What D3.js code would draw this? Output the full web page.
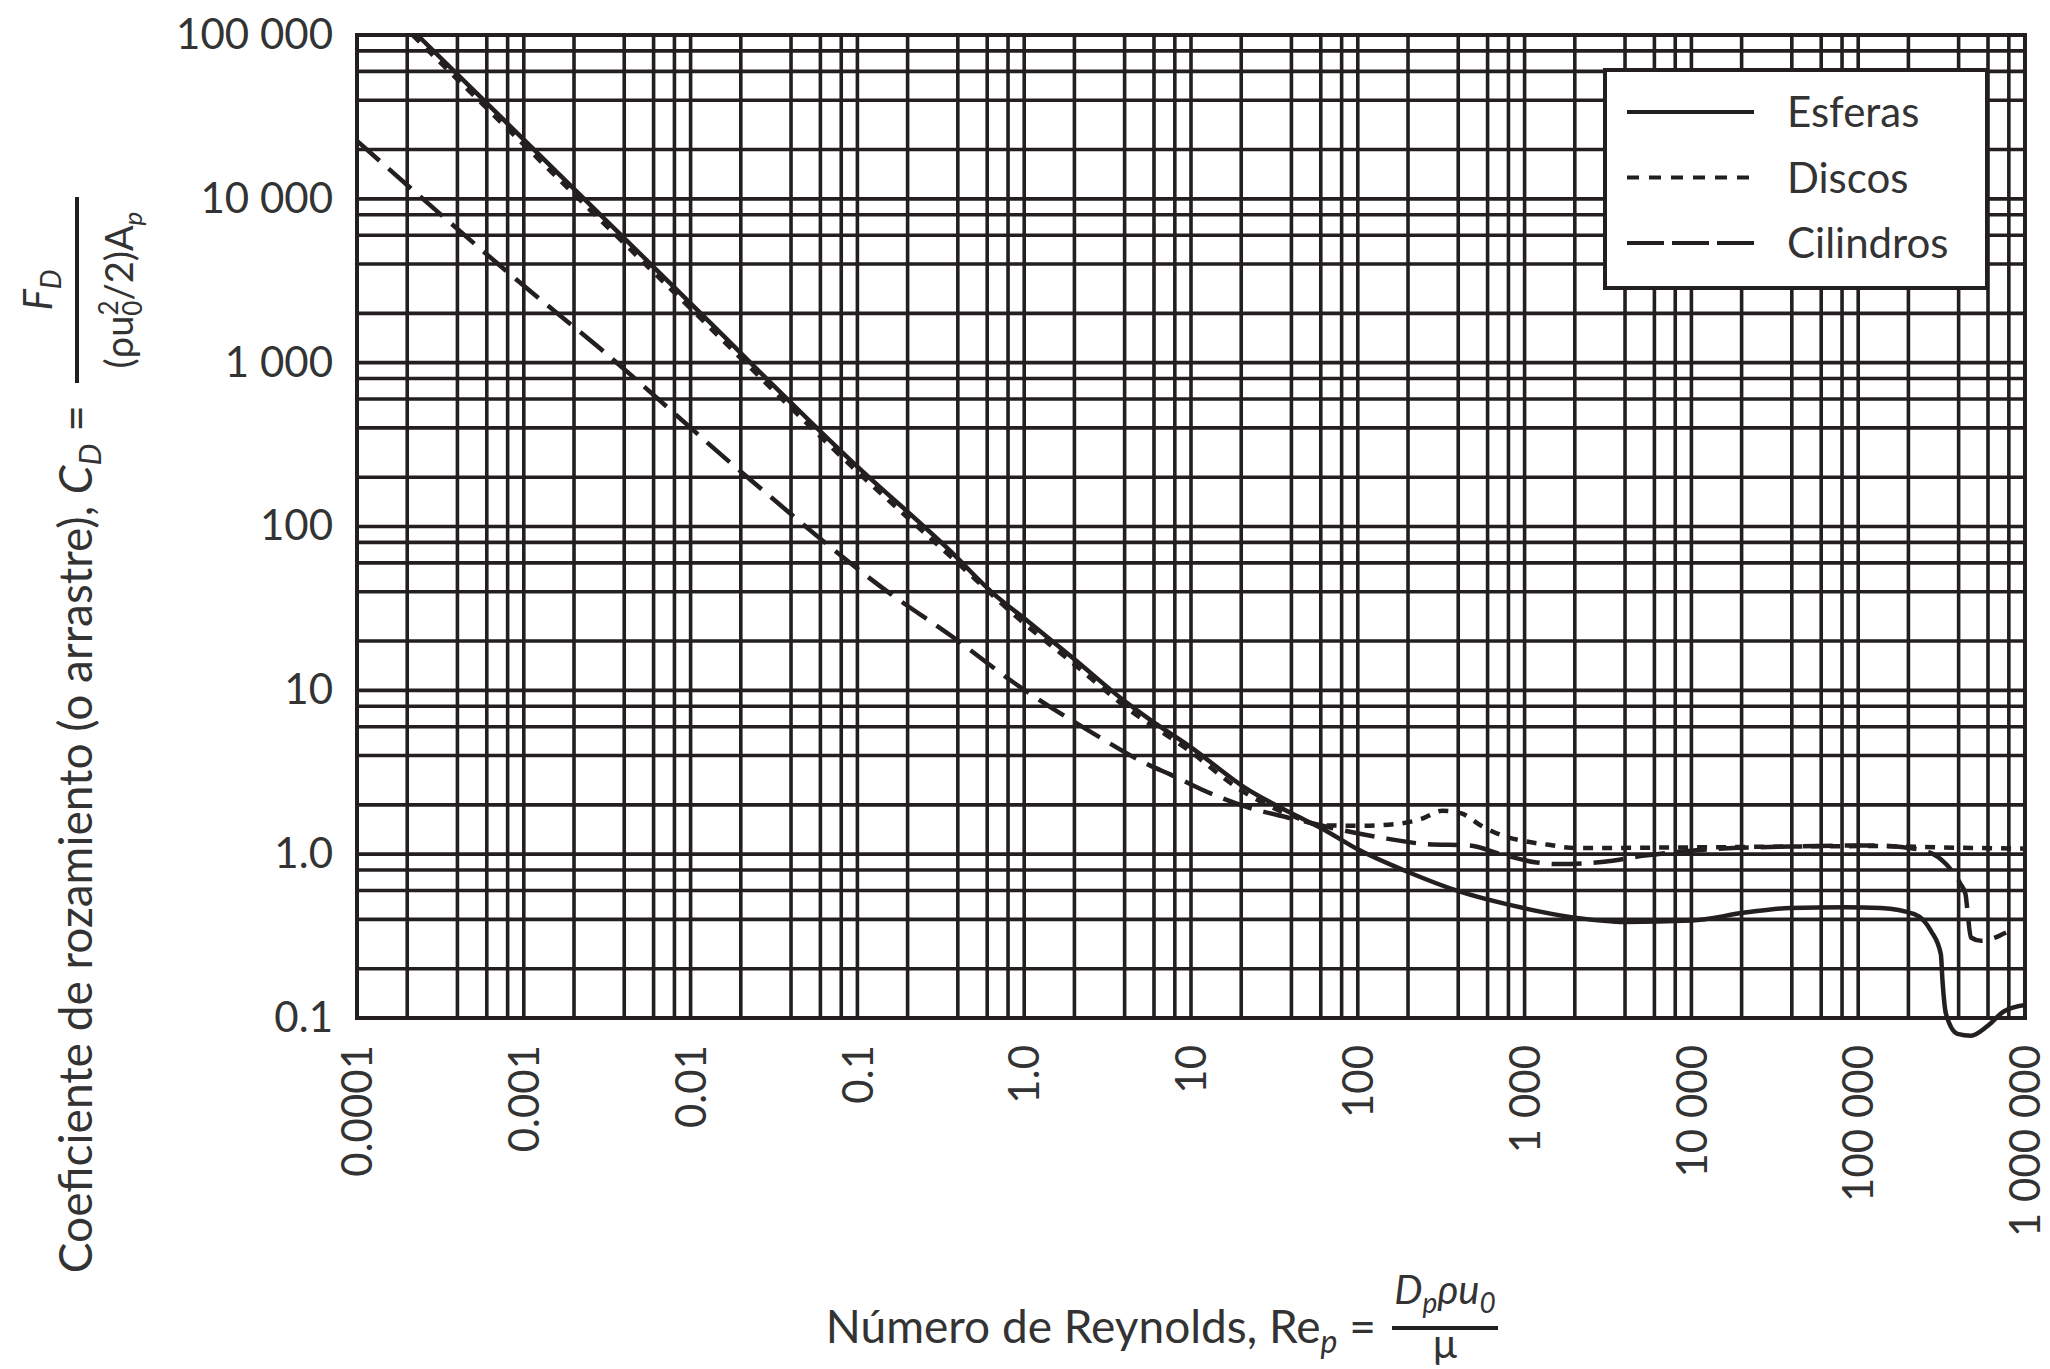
<!DOCTYPE html>
<html>
<head>
<meta charset="utf-8">
<script src="https://cdn.jsdelivr.net/npm/d3@7"></script>
<style>
  body { margin: 0; background: #fff; }
  svg { display: block; }
  text { font-family: Lato, "Open Sans", sans-serif; fill: #333; }
</style>
</head>
<body>
<svg id="chart"></svg>
<script>
const width = 2050;
const height = 1369;
const margin = { top: 35, right: 25, bottom: 351, left: 357 };

// axis ticks
const xTickValues = [1e-4, 1e-3, 0.01, 0.1, 1, 10, 100, 1e3, 1e4, 1e5, 1e6];
const xTickLabels = ["0.0001", "0.001", "0.01", "0.1", "1.0", "10", "100", "1 000", "10 000", "100 000", "1 000 000"];
const yTickValues = [0.1, 1, 10, 100, 1e3, 1e4, 1e5];
const yTickLabels = ["0.1", "1.0", "10", "100", "1 000", "10 000", "100 000"];
const gridSteps = [1, 2, 4, 6, 8];

// Esferas (solid)
const esferasRe = [2.3e-4, 1e-3, 0.01, 0.1, 0.36, 0.656, 1, 2, 4, 5.7, 10, 20.9, 39, 62, 100, 205, 410, 813, 2000, 4000,
  1e4, 2.1e4, 3.9e4, 8.4e4, 1.37e5, 2.17e5, 2.73e5, 3.13e5, 3.2e5, 3.36e5, 3.94e5, 4.74e5, 5.97e5, 7.5e5, 1e6];
const esferasCd = [1e5, 23000, 2300, 232, 71, 38.8, 27.5, 15.5, 8.6, 6.6, 4.49, 2.56, 1.80, 1.42, 1.07, 0.77, 0.59, 0.49, 0.41, 0.385,
  0.393, 0.44, 0.47, 0.475, 0.47, 0.43, 0.34, 0.245, 0.17, 0.106, 0.080, 0.078, 0.0895, 0.11, 0.12];

// Discos (dotted)
const discosRe = [2.15e-4, 1e-3, 0.01, 0.1, 0.36, 1, 2, 4, 10, 20, 40, 62, 100, 170, 240, 320, 414, 550, 720, 1000,
  1400, 2000, 1e4, 1.24e5, 3e5, 1e6];
const discosCd = [1e5, 21400, 2140, 216, 66, 25.6, 14.4, 8.0, 4.2, 2.45, 1.72, 1.5, 1.49, 1.53, 1.64, 1.84, 1.78, 1.49, 1.31, 1.2,
  1.14, 1.09, 1.1, 1.12, 1.1, 1.08];

// Cilindros (dashed)
const cilindrosRe = [1e-4, 1e-3, 2.87e-3, 0.0207, 0.158, 0.377, 0.86, 2.49, 5.7, 7.5, 11.4, 21.3, 39.5, 133, 264, 468, 720, 1180,
  1600, 3000, 5250, 1e4, 3.3e4, 1.24e5, 2.4e5, 3.36e5, 4.1e5, 4.4e5, 4.5e5, 4.74e5, 5.44e5, 7.7e5];
const cilindrosCd = [22600, 2950, 1219, 210, 38.8, 21.0, 11.2, 5.6, 3.47, 3.07, 2.5, 1.95, 1.66, 1.27, 1.15, 1.13, 1.0, 0.89,
  0.87, 0.90, 0.98, 1.05, 1.11, 1.13, 1.06, 0.87, 0.66, 0.57, 0.47, 0.31, 0.296, 0.333];

const seriesNames = ["Esferas", "Discos", "Cilindros"];

const ink = "#231f20";

const svg = d3.select("#chart")
  .attr("width", width)
  .attr("height", height)
  .attr("viewBox", [0, 0, width, height]);

const x = d3.scaleLog()
  .domain([1e-4, 1e6])
  .range([margin.left, width - margin.right]);

const y = d3.scaleLog()
  .domain([0.1, 1e5])
  .range([height - margin.bottom, margin.top]);

// grid values: 1, 2, 4, 6, 8 in every decade
function gridValues(lo, hi) {
  const vals = [];
  for (let e = Math.round(Math.log10(lo)); e <= Math.round(Math.log10(hi)); e++) {
    gridSteps.forEach(s => {
      const v = s * Math.pow(10, e);
      if (v >= lo * 0.999 && v <= hi * 1.001) vals.push(v);
    });
  }
  return vals;
}

const grid = svg.append("g")
  .attr("stroke", ink)
  .attr("stroke-width", 3.6);

grid.selectAll("line.v")
  .data(gridValues(1e-4, 1e6))
  .join("line")
  .attr("class", "v")
  .attr("x1", d => x(d)).attr("x2", d => x(d))
  .attr("y1", y(1e5)).attr("y2", y(0.1));

grid.selectAll("line.h")
  .data(gridValues(0.1, 1e5))
  .join("line")
  .attr("class", "h")
  .attr("x1", x(1e-4)).attr("x2", x(1e6))
  .attr("y1", d => y(d)).attr("y2", d => y(d));

svg.append("rect")
  .attr("x", x(1e-4))
  .attr("y", y(1e5))
  .attr("width", x(1e6) - x(1e-4))
  .attr("height", y(0.1) - y(1e5))
  .attr("fill", "none")
  .attr("stroke", ink)
  .attr("stroke-width", 4);

// axes (labels only)
const yAxis = svg.append("g")
  .attr("transform", `translate(${margin.left},0)`)
  .call(d3.axisLeft(y)
    .tickValues(yTickValues)
    .tickFormat((d, i) => yTickLabels[i])
    .tickSize(0)
    .tickPadding(24));
yAxis.select(".domain").remove();
yAxis.selectAll("text")
  .style("font-family", "Lato, sans-serif")
  .style("font-size", "42px")
  .attr("fill", "#333");

const xAxis = svg.append("g")
  .attr("transform", `translate(0,${height - margin.bottom})`)
  .call(d3.axisBottom(x)
    .tickValues(xTickValues)
    .tickFormat((d, i) => xTickLabels[i])
    .tickSize(0));
xAxis.select(".domain").remove();
xAxis.selectAll("text")
  .attr("transform", "rotate(-90)")
  .attr("x", -27)
  .attr("y", 0)
  .attr("dy", "0.35em")
  .attr("text-anchor", "end")
  .style("font-family", "Lato, sans-serif")
  .style("font-size", "42px")
  .attr("fill", "#333");

// curves
const series = [
  { name: "Esferas", re: esferasRe, cd: esferasCd, dash: null, legendDash: null },
  { name: "Discos", re: discosRe, cd: discosCd, dash: "10,9", legendDash: "12,10" },
  { name: "Cilindros", re: cilindrosRe, cd: cilindrosCd, dash: "30,12", legendDash: "37,8" }
];

const line = d3.line()
  .x(d => x(d[0]))
  .y(d => y(d[1]))
  .curve(d3.curveMonotoneX);

svg.append("g")
  .selectAll("path")
  .data(series)
  .join("path")
  .attr("fill", "none")
  .attr("stroke", ink)
  .attr("stroke-width", 4.5)
  .attr("stroke-dasharray", d => d.dash)
  .attr("d", d => line(d3.zip(d.re, d.cd)));

// legend
const legend = svg.append("g");
legend.append("rect")
  .attr("x", 1605).attr("y", 70)
  .attr("width", 382).attr("height", 218)
  .attr("fill", "#fff")
  .attr("stroke", ink)
  .attr("stroke-width", 4);

const items = legend.selectAll("g.item")
  .data(series)
  .join("g")
  .attr("class", "item")
  .attr("transform", (d, i) => `translate(0,${112 + i * 65.5})`);

items.append("line")
  .attr("x1", 1627).attr("x2", 1754)
  .attr("stroke", ink)
  .attr("stroke-width", 4)
  .attr("stroke-dasharray", d => d.legendDash);

items.append("text")
  .attr("x", 1787)
  .attr("dy", "0.36em")
  .style("font-size", "42px")
  .text(d => d.name);

// y title
const yTitle = svg.append("text")
  .attr("transform", "translate(92,405) rotate(-90)")
  .attr("text-anchor", "end")
  .style("font-size", "46px");
yTitle.append("tspan").text("Coeficiente de rozamiento (o arrastre), ");
yTitle.append("tspan").style("font-style", "italic").text("C");
yTitle.append("tspan").attr("dy", 9).style("font-size", "31px").style("font-style", "italic").text("D");
yTitle.append("tspan").attr("dy", -9).text(" =");

svg.append("line")
  .attr("x1", 77).attr("x2", 77)
  .attr("y1", 197).attr("y2", 383)
  .attr("stroke", ink)
  .attr("stroke-width", 4);

const num = svg.append("text")
  .attr("transform", "translate(52,290) rotate(-90)")
  .attr("text-anchor", "middle")
  .style("font-size", "40px")
  .style("font-style", "italic");
num.append("tspan").text("F");
num.append("tspan").attr("dy", 9).style("font-size", "28px").text("D");

const den = svg.append("text")
  .attr("transform", "translate(133,290) rotate(-90)")
  .attr("text-anchor", "middle")
  .style("font-size", "38px");
den.append("tspan").text("(ρu");
den.append("tspan").attr("dy", 9).style("font-size", "26px").text("0");
den.append("tspan").attr("dx", -15).attr("dy", -24).style("font-size", "26px").text("2");
den.append("tspan").attr("dy", 15).text("/2)A");
den.append("tspan").attr("dy", 9).style("font-size", "26px").style("font-style", "italic").text("p");

// x title
const xTitle = svg.append("text")
  .attr("x", 1376)
  .attr("y", 1343)
  .attr("text-anchor", "end")
  .style("font-size", "46px");
xTitle.append("tspan").text("Número de Reynolds, Re");
xTitle.append("tspan").attr("dy", 10).style("font-size", "32px").style("font-style", "italic").text("p");
xTitle.append("tspan").attr("dy", -10).text(" =");

svg.append("line")
  .attr("x1", 1392).attr("x2", 1498)
  .attr("y1", 1328).attr("y2", 1328)
  .attr("stroke", ink)
  .attr("stroke-width", 4);

const xNum = svg.append("text")
  .attr("x", 1445)
  .attr("y", 1304)
  .attr("text-anchor", "middle")
  .style("font-size", "40px")
  .style("font-style", "italic");
xNum.append("tspan").text("D");
xNum.append("tspan").attr("dy", 9).style("font-size", "28px").text("p");
xNum.append("tspan").attr("dy", -9).text("ρu");
xNum.append("tspan").attr("dy", 9).style("font-size", "28px").text("0");

svg.append("text")
  .attr("x", 1445)
  .attr("y", 1358)
  .attr("text-anchor", "middle")
  .style("font-size", "40px")
  .text("μ");
</script>
</body>
</html>
